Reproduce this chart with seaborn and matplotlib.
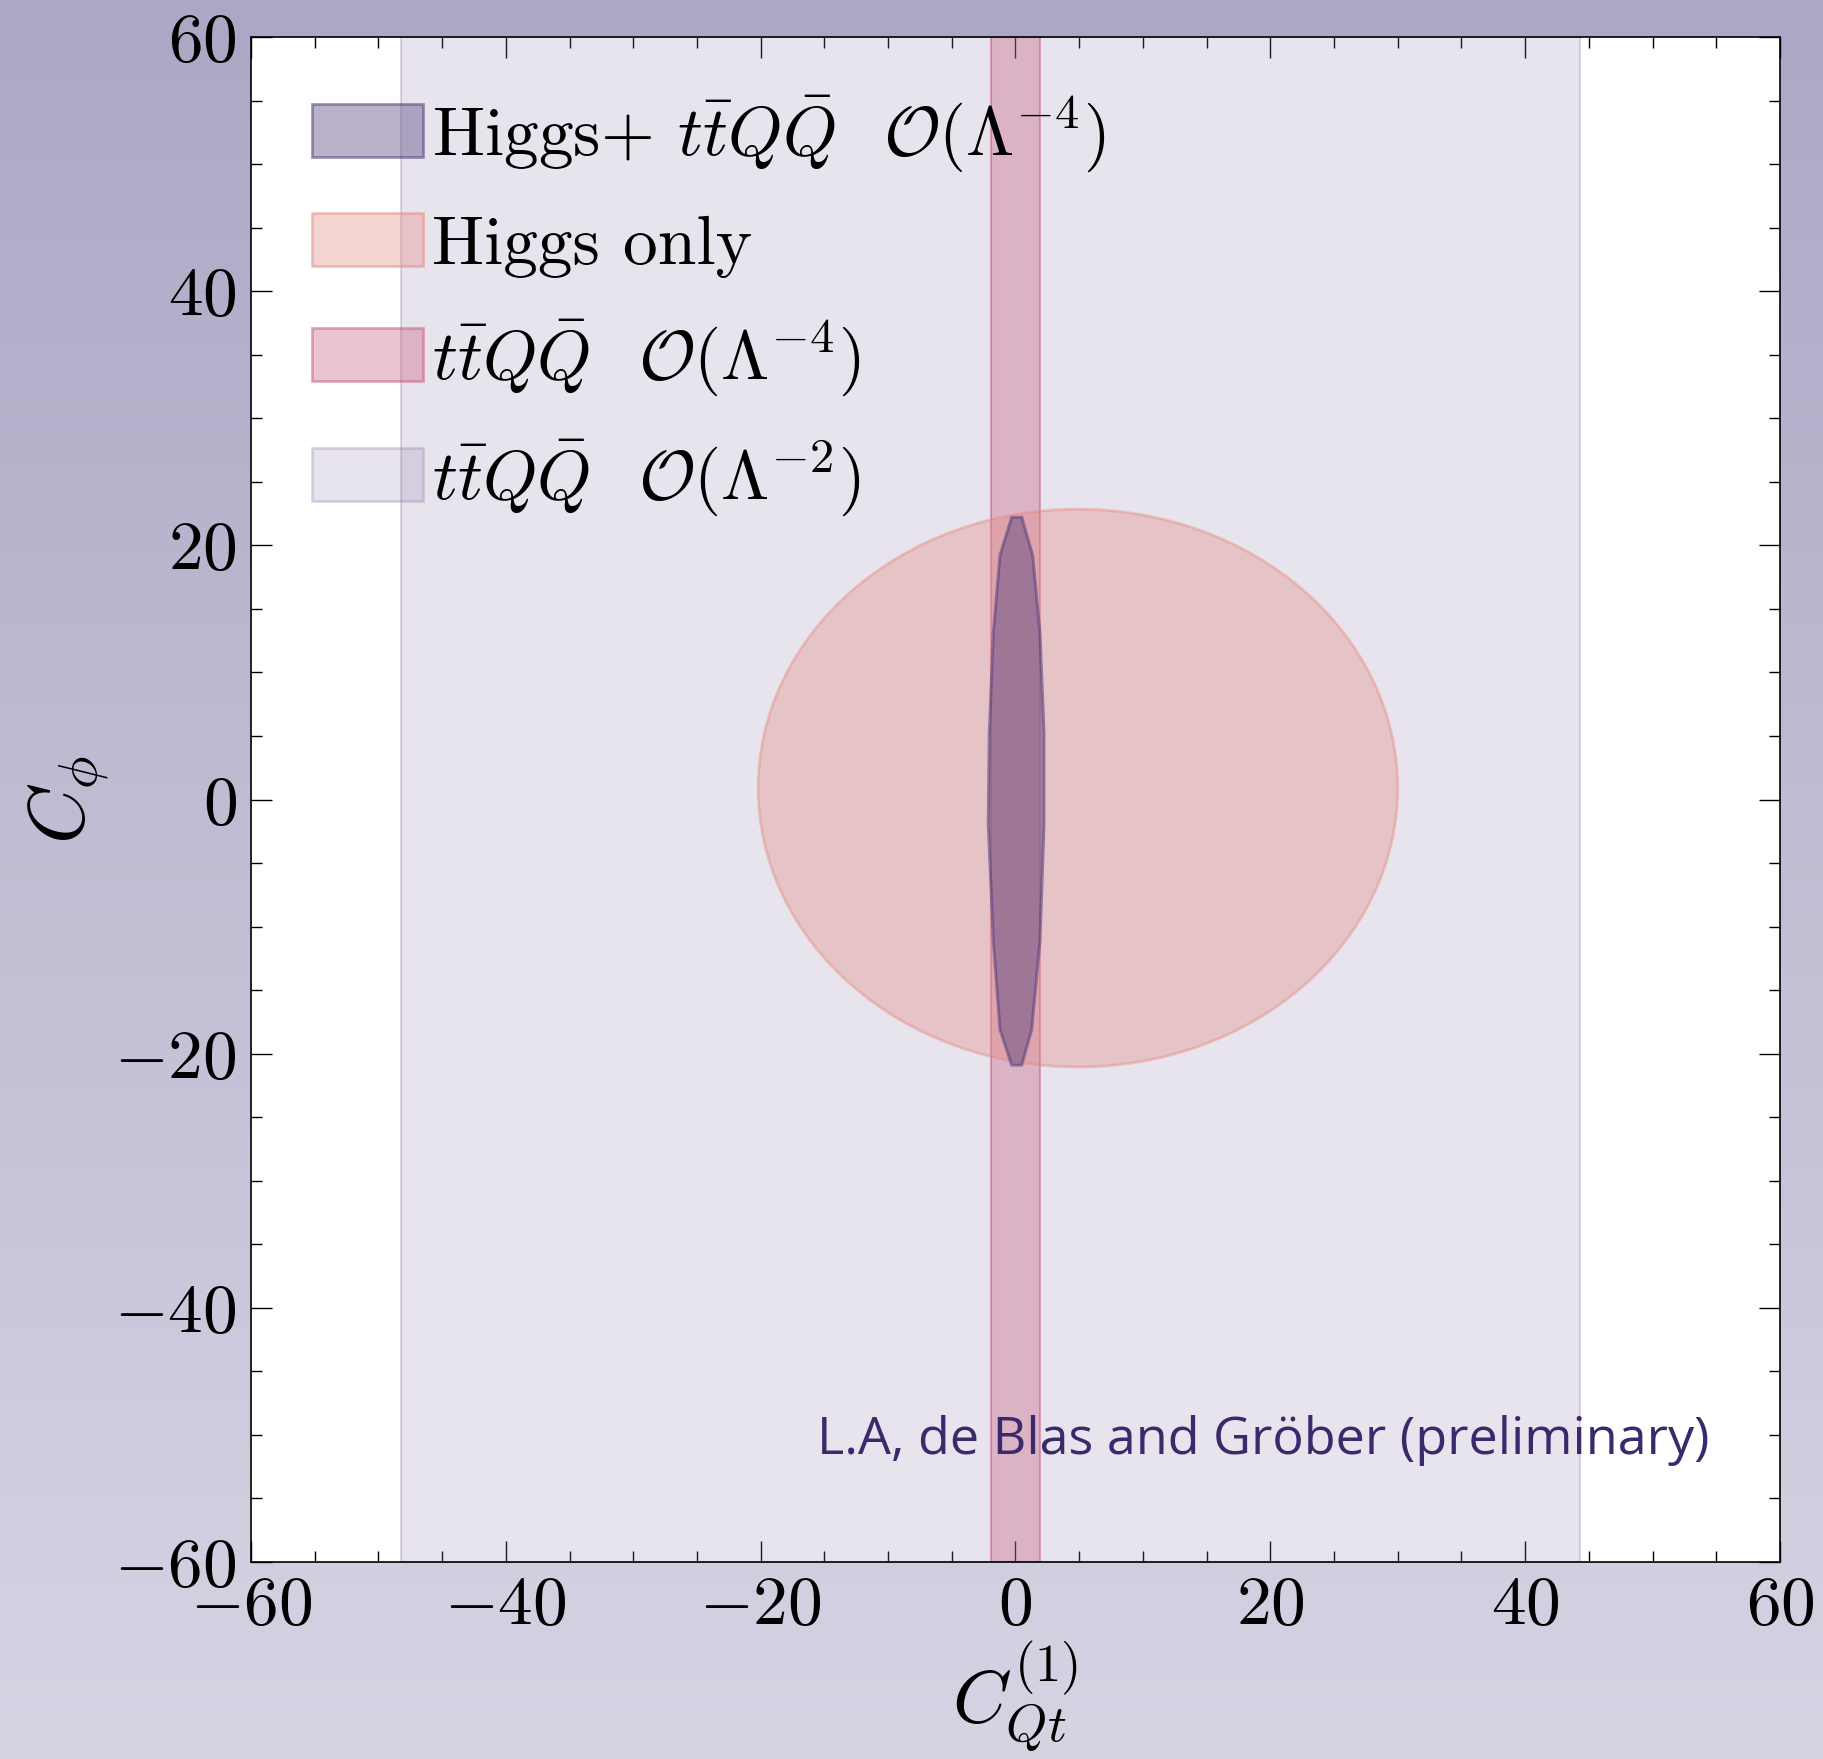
#%%
#  Libraries

import numpy as np
import matplotlib
matplotlib.use('Agg')
import matplotlib.pyplot as plt
from matplotlib.patches import Ellipse, Patch
from matplotlib.colors import to_rgba
from matplotlib.ticker import MultipleLocator, FuncFormatter
import seaborn as sns

#%%
#  Data

x_range = [-60, 60]
y_range = [-60, 60]
ttqq_l2 = [-48.2, 44.3]   # C_Qt range, ttQQ O(Lambda^-2)
ttqq_l4 = [-1.9, 1.9]     # C_Qt range, ttQQ O(Lambda^-4)
higgs_center = [4.9, 0.9]  # Higgs only ellipse
higgs_width = 50.2
higgs_height = 43.9
comb_cphi = [22.2, 19.2, 13.1, 5.2, -1.9, -11.1, -18.1, -20.9]  # Higgs + ttQQ contour
comb_right = [0.49, 1.35, 1.92, 2.24, 2.24, 1.92, 1.27, 0.49]
comb_left = [-0.30, -1.22, -1.74, -2.06, -2.14, -1.74, -1.22, -0.30]
labels = [r'Higgs+ $t\bar{t}Q\bar{Q}$  $\mathcal{O}(\Lambda^{-4})$',
          'Higgs only',
          r'$t\bar{t}Q\bar{Q}$  $\mathcal{O}(\Lambda^{-4})$',
          r'$t\bar{t}Q\bar{Q}$  $\mathcal{O}(\Lambda^{-2})$']
credit = 'L.A, de Blas and Gröber (preliminary)'

#%%
#  Style

sns.set_theme(style='ticks')
plt.rcParams['font.family'] = 'serif'
plt.rcParams['font.serif'] = ['cmr10']
plt.rcParams['mathtext.fontset'] = 'cm'
plt.rcParams['axes.unicode_minus'] = False
plt.rcParams['text.color'] = 'black'
plt.rcParams['axes.labelcolor'] = 'black'
plt.rcParams['xtick.color'] = 'black'
plt.rcParams['ytick.color'] = 'black'

c_comb = '#54407e'
c_higgs = '#e5877e'
c_l4 = '#c8577d'
c_l2 = '#8e78a8'

fig = plt.figure(figsize=(18.24, 17.59), dpi=100)

# gradient backdrop
bg = fig.add_axes([0, 0, 1, 1], zorder=-10)
top = np.array(to_rgba('#ada7c5')[:3])
bot = np.array(to_rgba('#d5d4e3')[:3])
t = np.linspace(0, 1, 256)[:, None, None]
bg.imshow(top * (1 - t) + bot * t, aspect='auto', extent=[0, 1, 0, 1])
bg.axis('off')

ax = fig.add_axes([251 / 1824, 1 - 1562 / 1759, 1529 / 1824, 1525 / 1759])
ax.set_facecolor('white')

#%%
#  Regions

h_l2 = ax.axvspan(ttqq_l2[0], ttqq_l2[1], facecolor=to_rgba(c_l2, 0.2),
                  edgecolor=to_rgba(c_l2, 0.3), lw=1.5, zorder=1)
h_l4 = ax.axvspan(ttqq_l4[0], ttqq_l4[1], facecolor=to_rgba(c_l4, 0.35),
                  edgecolor=to_rgba(c_l4, 0.5), lw=1.5, zorder=1.2)
ell = Ellipse(higgs_center, higgs_width, higgs_height,
              facecolor=to_rgba(c_higgs, 0.35), edgecolor=to_rgba(c_higgs, 0.4),
              lw=2, zorder=1.4)
ax.add_patch(ell)
poly_x = comb_right + comb_left[::-1] + [comb_right[0]]
poly_y = comb_cphi + comb_cphi[::-1] + [comb_cphi[0]]
ax.fill(poly_x, poly_y, facecolor=to_rgba(c_comb, 0.45), edgecolor='none', zorder=1.6)
sns.lineplot(x=poly_x, y=poly_y, sort=False, ax=ax, color=c_comb, alpha=0.55,
             lw=2.2, zorder=1.7, estimator=None)

#%%
#  Axes

ax.set_xlim(x_range)
ax.set_ylim(y_range)
ax.xaxis.set_major_locator(MultipleLocator(20))
ax.yaxis.set_major_locator(MultipleLocator(20))
ax.xaxis.set_minor_locator(MultipleLocator(5))
ax.yaxis.set_minor_locator(MultipleLocator(5))
fmt = FuncFormatter(lambda v, p: f'${v:.0f}$')
ax.xaxis.set_major_formatter(fmt)
ax.yaxis.set_major_formatter(fmt)
ax.tick_params(which='both', direction='in', top=True, right=True, color='black',
               labelcolor='black', labelsize=50, width=1.0)
ax.tick_params(which='major', length=15, pad=10)
ax.tick_params(which='minor', length=8)
for s in ax.spines.values():
    s.set_linewidth(1.2)
    s.set_color('black')
    s.set_zorder(5)

ax.set_xlabel(r'$C_{Qt}^{(1)}$', fontsize=54, labelpad=2)
ax.set_ylabel(r'$C_\phi$', fontsize=56, labelpad=2)

handles = [Patch(facecolor=to_rgba(c_comb, 0.4), edgecolor=to_rgba(c_comb, 0.55), lw=2),
           Patch(facecolor=to_rgba(c_higgs, 0.35), edgecolor=to_rgba(c_higgs, 0.5), lw=2),
           Patch(facecolor=to_rgba(c_l4, 0.35), edgecolor=to_rgba(c_l4, 0.5), lw=2),
           Patch(facecolor=to_rgba(c_l2, 0.2), edgecolor=to_rgba(c_l2, 0.3), lw=2)]
leg = ax.legend(handles, labels, loc='upper left', bbox_to_anchor=(0.04, 0.963),
                frameon=False, fontsize=50, borderpad=0, borderaxespad=0,
                handlelength=1.6, handleheight=0.78, handletextpad=0.12,
                labelspacing=0.57)
leg.set_zorder(6)

ax.text(-15.6, -51.5, credit, family='Open Sans', fontsize=37.5, color='#3b2a6b',
        ha='left', va='baseline', zorder=6)

fig.savefig('out.png', dpi=100)
